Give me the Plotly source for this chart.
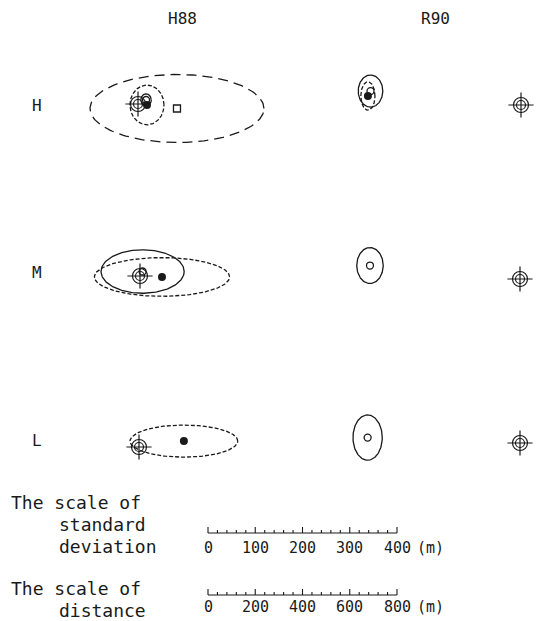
import numpy as np
import plotly.graph_objects as go

# ---------------- data (metres) ----------------
groups = ["H88", "R90"]
levels = ["H", "M", "L"]

# Series A: open circle mean, solid SD ellipse  (offset from target: east dx, north dy; sd x/y)
a_dx = {"H88": [34, 11, None], "R90": [-637, -635, -645]}
a_dy = {"H88": [17, 19, None], "R90": [59, 57, 23]}
a_sx = {"H88": [11, 88, None], "R90": [26, 28, 31]}
a_sy = {"H88": [13, 46, None], "R90": [34, 38, 48]}

# Series B: filled dot mean, short-dashed SD ellipse
b_dx = {"H88": [38, 93, 190], "R90": [-648, None, None]}
b_dy = {"H88": [-4, -4, 25], "R90": [38, None, None]}
b_sx = {"H88": [36, 143, 114], "R90": [15, None, None]}
b_sy = {"H88": [42, 41, 34], "R90": [30, None, None]}

# Series C: open square mean, long-dashed SD ellipse
c_dx = {"H88": [165, None, None], "R90": [None, None, None]}
c_dy = {"H88": [-19, None, None], "R90": [None, None, None]}
c_sx = {"H88": [184, None, None], "R90": [None, None, None]}
c_sy = {"H88": [72, None, None], "R90": [None, None, None]}

sd_ticks = [0, 100, 200, 300, 400]        # scale of standard deviation (m)
dist_ticks = [0, 200, 400, 600, 800]      # scale of distance (m)

# ---------------- layout helpers ----------------
W, H = 536, 621
K = 189 / 800.0           # pixels per metre of distance
SDF = 2.0                 # sd drawn at twice the distance scale


def u(px):
    return px / K


# target (crosshair) positions on the page, pixels
target_px = {"H88": [(138, 104), (140, 276), (139, 447)],
             "R90": [(521, 105), (520, 279), (520, 443)]}

INK = "#1a1a1a"
fig = go.Figure()


def ellipse(cx, cy, sx, sy, dash):
    t = np.linspace(0, 2 * np.pi, 181)
    fig.add_trace(go.Scatter(x=cx + SDF * sx * np.cos(t), y=cy - SDF * sy * np.sin(t),
                             mode="lines", line=dict(color=INK, width=1.3, dash=dash),
                             hoverinfo="skip"))


series = [
    (a_dx, a_dy, a_sx, a_sy, "solid", dict(symbol="circle-open", size=7, color=INK, line=dict(width=1.3))),
    (b_dx, b_dy, b_sx, b_sy, "4px,2px", dict(symbol="circle", size=8, color=INK)),
    (c_dx, c_dy, c_sx, c_sy, "10px,6px", dict(symbol="square-open", size=7, color=INK, line=dict(width=1.3))),
]

for g in groups:
    tx = [u(p[0]) for p in target_px[g]]
    ty = [u(p[1]) for p in target_px[g]]
    # crosshair targets
    for sym, size in [("circle-open", 15), ("circle-open", 9), ("cross-thin-open", 18)]:
        fig.add_trace(go.Scatter(x=tx, y=ty, mode="markers",
                                 marker=dict(symbol=sym, size=size, color=INK, line=dict(width=1.2, color=INK)),
                                 hoverinfo="skip"))
    for dx, dy, sx, sy, dash, mk in series:
        mx, my = [], []
        for i in range(3):
            if dx[g][i] is None:
                continue
            cx = tx[i] + dx[g][i]
            cy = ty[i] - dy[g][i]
            ellipse(cx, cy, sx[g][i], sy[g][i], dash)
            mx.append(cx)
            my.append(cy)
        fig.add_trace(go.Scatter(x=mx, y=my, mode="markers", marker=mk, hoverinfo="skip"))

# ---------------- scale bars ----------------
BAR_X0 = u(208)


def scale_bar(y_px, ticks, factor, n_minor, label_y_px):
    y0 = u(y_px)
    step = (ticks[1] - ticks[0]) / n_minor
    xs, ys = [BAR_X0, BAR_X0 + factor * ticks[-1], None], [y0, y0, None]
    v = ticks[0]
    while v <= ticks[-1] + 1e-9:
        major = any(abs(v - t) < 1e-9 for t in ticks)
        h = u(6 if major else 3)
        x = BAR_X0 + factor * v
        xs += [x, x, None]
        ys += [y0, y0 - h, None]
        v += step
    fig.add_trace(go.Scatter(x=xs, y=ys, mode="lines", line=dict(color=INK, width=1.1),
                             hoverinfo="skip"))
    for t in ticks:
        fig.add_annotation(x=BAR_X0 + factor * t, y=u(label_y_px), text=str(t), showarrow=False,
                           xanchor="center", yanchor="middle",
                           font=dict(family="DejaVu Sans Mono", size=15, color=INK))
    fig.add_annotation(x=u(430), y=u(label_y_px), text="(m)", showarrow=False,
                       xanchor="center", yanchor="middle",
                       font=dict(family="DejaVu Sans Mono", size=15, color=INK))


scale_bar(533, sd_ticks, SDF, 5, 548)
scale_bar(595, dist_ticks, 1.0, 5, 607)

# ---------------- texts ----------------
texts = [
    ("H88", 182, 18, "center"), ("R90", 435, 18, "center"),
    ("H", 37, 105, "center"), ("M", 37, 272, "center"), ("L", 37, 440, "center"),
    ("The scale of", 9, 502, "left"), ("standard", 57, 524, "left"), ("deviation", 57, 546, "left"),
    ("The scale of", 9, 588, "left"), ("distance", 57, 610, "left"),
]
for txt, x, y, anc in texts:
    fig.add_annotation(x=u(x), y=u(y), text=txt, showarrow=False, xanchor=anc, yanchor="middle",
                       font=dict(family="DejaVu Sans Mono", size=18 if len(txt) > 3 else 16, color=INK))

fig.update_layout(
    width=W, height=H, margin=dict(l=0, r=0, t=0, b=0),
    paper_bgcolor="white", plot_bgcolor="white", showlegend=False,
    xaxis=dict(range=[0, u(W)], visible=False, fixedrange=True),
    yaxis=dict(range=[u(H), 0], visible=False, fixedrange=True),
)

fig.write_html("out.html")
